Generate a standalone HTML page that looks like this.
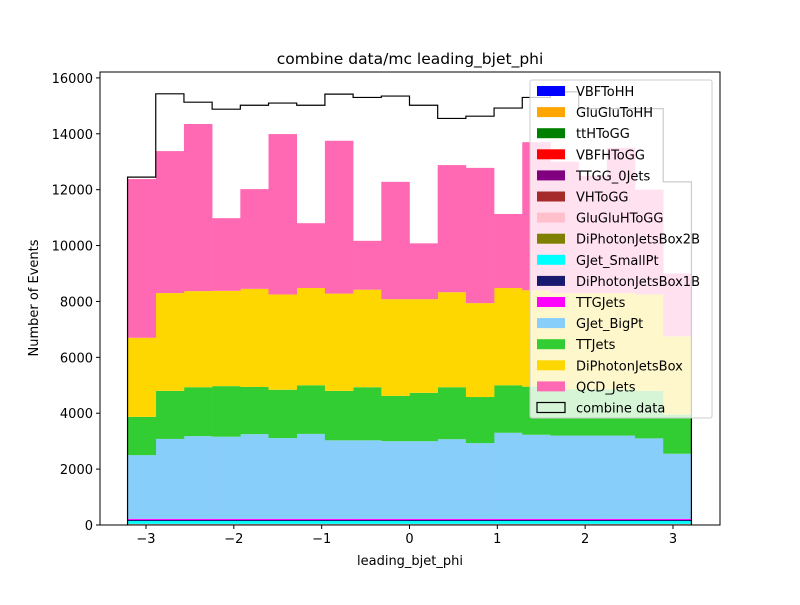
<!DOCTYPE html>
<html><head><meta charset="utf-8"><style>
body{margin:0;background:#fff;font-family:"Liberation Sans","DejaVu Sans",sans-serif}
svg text{font-family:"DejaVu Sans","Liberation Sans",sans-serif}
</style></head><body>
<svg id="c" width="800" height="600" xmlns="http://www.w3.org/2000/svg"></svg>
<script>
const names=["VBFToHH","GluGluToHH","ttHToGG","VBFHToGG","TTGG_0Jets","VHToGG","GluGluHToGG","DiPhotonJetsBox2B","GJet_SmallPt","DiPhotonJetsBox1B","TTGJets","GJet_BigPt","TTJets","DiPhotonJetsBox","QCD_Jets"];
const colors=["#0000ff","#ffa500","#008000","#ff0000","#800080","#a52a2a","#ffc0cb","#808000","#00ffff","#191970","#ff00ff","#87cefa","#32cd32","#ffd700","#ff69b4"];
const smallVals=[0,0,2,5,5,5,15,10,100,40,40];
const topBigPt=[2500,3080,3180,3160,3250,3110,3260,3030,3030,3000,3000,3070,2930,3300,3230,3200,3200,3200,3100,2550];
const topTT=[3870,4800,4930,4970,4940,4840,5000,4800,4930,4620,4730,4930,4580,5000,4950,4850,4850,4850,4800,3950];
const topDiPho=[6700,8300,8370,8380,8450,8250,8480,8280,8420,8080,8080,8330,7940,8480,8400,8300,8300,8300,8250,6750];
const topQCD=[12380,13380,14350,10980,12020,13990,10800,13750,10170,12280,10080,12880,12780,11130,13700,13000,12500,13500,12000,9000];
const dataVals=[12450,15430,15130,14880,15020,15100,15020,15420,15300,15350,15020,14550,14630,14920,15300,15500,14900,14900,14900,12280];
const xTicks=[-3,-2,-1,0,1,2,3];
const yTicks=[0,2000,4000,6000,8000,10000,12000,14000,16000];
const NB=20,XMIN=-3.21,XMAX=3.21;
const X=v=>146+(v+3)*87.83;
const Y=v=>525-v*0.027944;
const S=document.getElementById('c');const ns='http://www.w3.org/2000/svg';
function el(t,a,p){const e=document.createElementNS(ns,t);for(const k in a)e.setAttribute(k,a[k]);(p||S).appendChild(e);return e;}
const edges=[];for(let i=0;i<=NB;i++)edges.push(XMIN+(XMAX-XMIN)*i/NB);
const comp=[];
for(let k=0;k<11;k++)comp.push(new Array(NB).fill(smallVals[k]));
const smallSum=smallVals.reduce((a,b)=>a+b,0);
comp.push(topBigPt.map(v=>v-smallSum));
comp.push(topTT.map((v,i)=>v-topBigPt[i]));
comp.push(topDiPho.map((v,i)=>v-topTT[i]));
comp.push(topQCD.map((v,i)=>v-topDiPho[i]));
const base=new Array(NB).fill(0);
comp.forEach((vals,k)=>{
  const g=el('g',{});
  
  
  for(let i=0;i<NB;i++){
    if(vals[i]<=0){continue;}
    const x0=X(edges[i]),x1=X(edges[i+1]);const y0=Y(base[i]),y1=Y(base[i]+vals[i]);
    const r=el('rect',{x:x0,y:y1,width:x1-x0+0.3,height:y0-y1,fill:colors[k]},g);
    
    
    base[i]+=vals[i];
  }
});
let d='M'+X(edges[0])+' '+Y(0);
for(let i=0;i<NB;i++){d+=' L'+X(edges[i])+' '+Y(dataVals[i])+' L'+X(edges[i+1])+' '+Y(dataVals[i]);}
d+=' L'+X(edges[NB])+' '+Y(0);
const dp=el('path',{d:d,fill:'none',stroke:'#000','stroke-width':1.2});


const fr=el('rect',{x:100,y:72,width:620,height:453,fill:'none',stroke:'#000','stroke-width':1});


xTicks.forEach(t=>{
  el('line',{x1:X(t),x2:X(t),y1:525,y2:529,stroke:'#000'});
  const tx=el('text',{x:X(t),y:543,'font-size':13,'text-anchor':'middle'});tx.textContent=(t<0?'\u2212'+(-t):t);
  
  
});
yTicks.forEach(t=>{
  el('line',{x1:96,x2:100,y1:Y(t),y2:Y(t),stroke:'#000'});
  const tx=el('text',{x:93,y:Y(t)+5,'font-size':13,'text-anchor':'end'});tx.textContent=t;
  
  
});
const ti=el('text',{x:410,y:64,'font-size':15.5,'text-anchor':'middle'});ti.textContent='combine data/mc leading_bjet_phi';


const xl=el('text',{x:410,y:565,'font-size':13,'text-anchor':'middle'});xl.textContent='leading_bjet_phi';


const yl=el('text',{x:38,y:298,'font-size':13,'text-anchor':'middle',transform:'rotate(-90 38 298)'});yl.textContent='Number of Events';


const lg=el('g',{});


el('rect',{x:530,y:80,width:182,height:338,rx:2,fill:'#fff','fill-opacity':0.8,stroke:'#ccc'},lg);
const labels=names.concat(['combine data']);
labels.forEach((n,i)=>{
  const y=91+i*21.1;
  const sw=el('rect',{x:537,y:y-5,width:28,height:10,fill:i<15?colors[i]:'none',stroke:i<15?'none':'#000','stroke-width':1.2},lg);
  
  
  const t=el('text',{x:576,y:y+5,'font-size':13},lg);t.textContent=n;
  
  
});
</script>
</body></html>
